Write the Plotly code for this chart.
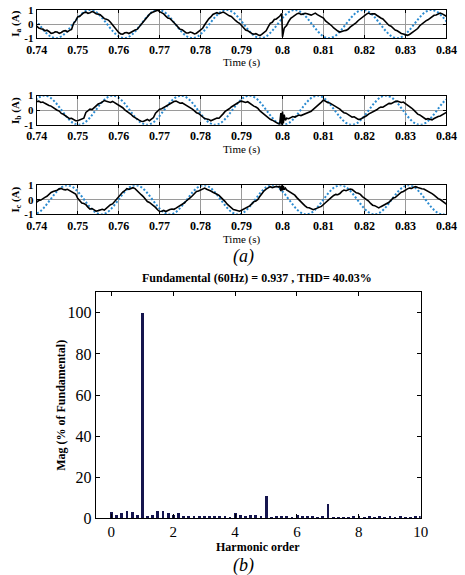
import plotly.graph_objects as go

# ---------------- data ----------------
TIME = [0.7400, 0.7405, 0.7410, 0.7415, 0.7420, 0.7425, 0.7430, 0.7435, 0.7440, 0.7445,
        0.7450, 0.7455, 0.7460, 0.7465, 0.7470, 0.7475, 0.7480, 0.7485, 0.7490, 0.7495,
        0.7500, 0.7505, 0.7510, 0.7515, 0.7520, 0.7525, 0.7530, 0.7535, 0.7540, 0.7545,
        0.7550, 0.7555, 0.7560, 0.7565, 0.7570, 0.7575, 0.7580, 0.7585, 0.7590, 0.7595,
        0.7600, 0.7605, 0.7610, 0.7615, 0.7620, 0.7625, 0.7630, 0.7635, 0.7640, 0.7645,
        0.7650, 0.7655, 0.7660, 0.7665, 0.7670, 0.7675, 0.7680, 0.7685, 0.7690, 0.7695,
        0.7700, 0.7705, 0.7710, 0.7715, 0.7720, 0.7725, 0.7730, 0.7735, 0.7740, 0.7745,
        0.7750, 0.7755, 0.7760, 0.7765, 0.7770, 0.7775, 0.7780, 0.7785, 0.7790, 0.7795,
        0.7800, 0.7805, 0.7810, 0.7815, 0.7820, 0.7825, 0.7830, 0.7835, 0.7840, 0.7845,
        0.7850, 0.7855, 0.7860, 0.7865, 0.7870, 0.7875, 0.7880, 0.7885, 0.7890, 0.7895,
        0.7900, 0.7905, 0.7910, 0.7915, 0.7920, 0.7925, 0.7930, 0.7935, 0.7940, 0.7945,
        0.7950, 0.7955, 0.7960, 0.7965, 0.7970, 0.7975, 0.7980, 0.7985, 0.7990,
        0.7993, 0.7996, 0.7998, 0.8000, 0.8002, 0.8004, 0.8007,
        0.8010, 0.8015, 0.8020, 0.8025, 0.8030, 0.8035, 0.8040, 0.8045, 0.8050, 0.8055,
        0.8060, 0.8065, 0.8070, 0.8075, 0.8080, 0.8085, 0.8090, 0.8095, 0.8100, 0.8105,
        0.8110, 0.8115, 0.8120, 0.8125, 0.8130, 0.8135, 0.8140, 0.8145, 0.8150, 0.8155,
        0.8160, 0.8165, 0.8170, 0.8175, 0.8180, 0.8185, 0.8190, 0.8195, 0.8200, 0.8205,
        0.8210, 0.8215, 0.8220, 0.8225, 0.8230, 0.8235, 0.8240, 0.8245, 0.8250, 0.8255,
        0.8260, 0.8265, 0.8270, 0.8275, 0.8280, 0.8285, 0.8290, 0.8295, 0.8300, 0.8305,
        0.8310, 0.8315, 0.8320, 0.8325, 0.8330, 0.8335, 0.8340, 0.8345, 0.8350, 0.8355,
        0.8360, 0.8365, 0.8370, 0.8375, 0.8380, 0.8385, 0.8390, 0.8395, 0.8400]

I_A = [-0.15, -0.28, -0.33, -0.36, -0.48, -0.44, -0.53, -0.66, -0.64, -0.55,
       -0.57, -0.66, -0.6, -0.5, -0.47, -0.55, -0.45, -0.38, 0.05, 0.22,
       0.5, 0.55, 0.68, 0.8, 0.84, 0.76, 0.8, 0.88, 0.83, 0.72,
       0.7, 0.66, 0.53, 0.38, 0.33, 0.28, 0.12, -0.05, -0.3, -0.42,
       -0.6, -0.7, -0.72, -0.62, -0.6, -0.67, -0.57, -0.48, -0.43, -0.38,
       -0.2, 0.0, 0.15, 0.28, 0.5, 0.68, 0.8, 0.86, 0.95, 0.98,
       0.88, 0.8, 0.72, 0.56, 0.43, 0.4, 0.27, 0.08, -0.05, -0.22,
       -0.37, -0.4, -0.53, -0.63, -0.64, -0.57, -0.62, -0.7, -0.65, -0.55,
       -0.43, -0.3, -0.05, 0.2, 0.37, 0.5, 0.68, 0.74, 0.8, 0.73,
       0.78, 0.85, 0.77, 0.66, 0.58, 0.53, 0.42, 0.25, 0.13, 0.05,
       -0.1, -0.3, -0.42, -0.47, -0.58, -0.67, -0.72, -0.68, -0.76, -0.82,
       -0.72, -0.62, -0.48, -0.2, 0.05, 0.12, 0.32, 0.36, 0.45,
       0.55, 0.65, 0.75, -0.9, -0.4, -0.3, -0.2,
       -0.1, 0.18, 0.4, 0.5, 0.63, 0.72, 0.77, 0.68, 0.7, 0.76,
       0.73, 0.65, 0.63, 0.7, 0.77, 0.66, 0.58, 0.52, 0.42, 0.22,
       0.1, 0.04, -0.12, -0.28, -0.4, -0.5, -0.57, -0.5, -0.48, -0.45,
       -0.37, -0.22, -0.13, -0.04, 0.1, 0.25, 0.37, 0.45, 0.58, 0.7,
       0.77, 0.7, 0.73, 0.72, 0.62, 0.5, 0.43, 0.36, 0.22, 0.02,
       -0.1, -0.16, -0.32, -0.43, -0.48, -0.6, -0.67, -0.7, -0.76, -0.8,
       -0.74, -0.62, -0.53, -0.45, -0.32, -0.12, 0.0, 0.14, 0.22, 0.3,
       0.43, 0.55, 0.62, 0.64, 0.73, 0.78, 0.72, 0.62, 0.55]

I_B = [0.6, 0.62, 0.53, 0.56, 0.47, 0.38, 0.33, 0.28, 0.17, 0.05,
       0.0, -0.06, -0.22, -0.28, -0.38, -0.5, -0.57, -0.55, -0.63, -0.72,
       -0.72, -0.66, -0.58, -0.55, -0.15, -0.02, 0.07, 0.04, 0.18, 0.3,
       0.42, 0.47, 0.58, 0.66, 0.62, 0.55, 0.53, 0.6, 0.52, 0.4,
       0.33, 0.28, 0.17, 0.02, -0.07, -0.15, -0.28, -0.42, -0.52, -0.58,
       -0.68, -0.75, -0.77, -0.7, -0.63, -0.72, -0.62, -0.5, -0.2, -0.05,
       0.07, 0.1, 0.18, 0.3, 0.37, 0.42, 0.53, 0.6, 0.62, 0.55,
       0.48, 0.5, 0.42, 0.3, 0.23, 0.18, 0.07, -0.05, -0.17, -0.22,
       -0.33, -0.47, -0.57, -0.6, -0.63, -0.72, -0.67, -0.6, -0.53, -0.55,
       -0.42, -0.25, -0.08, 0.0, 0.1, 0.22, 0.32, 0.36, 0.48, 0.58,
       0.62, 0.56, 0.53, 0.58, 0.47, 0.36, 0.28, 0.22, 0.12, -0.05,
       -0.17, -0.25, -0.38, -0.52, -0.62, -0.68, -0.78, -0.85, -0.92,
       -0.95, -0.2, -1.0, -0.1, -0.9, -0.3, -0.7,
       -0.55, -0.58, -0.48, -0.43, -0.47, -0.38, -0.33, -0.37, -0.32, -0.22,
       -0.18, -0.15, -0.07, 0.05, 0.17, 0.25, 0.38, 0.55, 0.7, 0.6,
       0.53, 0.5, 0.42, 0.3, 0.23, 0.16, 0.07, -0.06, -0.17, -0.2,
       -0.28, -0.4, -0.47, -0.45, -0.53, -0.63, -0.62, -0.55, -0.43, -0.38,
       -0.27, -0.2, -0.08, -0.06, 0.03, 0.14, 0.22, 0.2, 0.28, 0.4,
       0.47, 0.45, 0.53, 0.6, 0.62, 0.55, 0.53, 0.56, 0.47, 0.33,
       0.23, 0.15, 0.02, -0.15, -0.27, -0.32, -0.43, -0.55, -0.62, -0.58,
       -0.63, -0.66, -0.57, -0.48, -0.43, -0.4, -0.32, -0.2, -0.15]

I_C = [-0.15, -0.05, -0.02, 0.1, 0.17, 0.24, 0.38, 0.5, 0.57, 0.6,
       0.66, 0.75, 0.78, 0.7, 0.68, 0.72, 0.64, 0.58, 0.53, 0.4,
       0.1, -0.08, -0.22, -0.25, -0.33, -0.5, -0.64, -0.6, -0.7, -0.78,
       -0.74, -0.68, -0.65, -0.7, -0.57, -0.45, -0.33, -0.28, -0.12, 0.05,
       0.22, 0.35, 0.53, 0.62, 0.77, 0.72, 0.76, 0.83, 0.77, 0.62,
       0.43, 0.35, 0.22, 0.05, -0.12, -0.18, -0.28, -0.42, -0.52, -0.68,
       -0.8, -0.78, -0.73, -0.8, -0.72, -0.66, -0.63, -0.65, -0.57, -0.48,
       -0.43, -0.36, -0.22, -0.08, 0.07, 0.15, 0.28, 0.45, 0.57, 0.6,
       0.68, 0.76, 0.8, 0.72, 0.63, 0.6, 0.52, 0.42, 0.38, 0.3,
       0.17, 0.05, -0.12, -0.3, -0.43, -0.55, -0.67, -0.7, -0.73, -0.78,
       -0.72, -0.64, -0.58, -0.52, -0.42, -0.28, -0.13, -0.08, 0.03, 0.25,
       0.47, 0.62, 0.73, 0.8, 0.9, 0.84, 0.86, 0.92, 0.87,
       0.95, 0.6, 1.0, 0.65, 0.95, 0.7, 0.8,
       0.68, 0.58, 0.48, 0.42, 0.32, 0.15, -0.02, -0.15, -0.28, -0.42,
       -0.52, -0.55, -0.63, -0.68, -0.62, -0.55, -0.48, -0.45, -0.32, -0.18,
       -0.08, 0.05, 0.18, 0.3, 0.37, 0.35, 0.43, 0.58, 0.67, 0.62,
       0.68, 0.74, 0.7, 0.58, 0.48, 0.45, 0.37, 0.22, 0.13, 0.05,
       -0.08, -0.25, -0.37, -0.4, -0.48, -0.55, -0.47, -0.4, -0.28, -0.26,
       -0.17, -0.02, 0.12, 0.15, 0.28, 0.42, 0.52, 0.57, 0.68, 0.75,
       0.8, 0.78, 0.86, 0.9, 0.84, 0.78, 0.76, 0.74, 0.67, 0.55,
       0.48, 0.42, 0.32, 0.18, 0.08, 0.02, -0.1, -0.18, -0.3]

# reference 60 Hz waveforms (peaks, zero crossings and 30-degree points)
REF_T = [0.73911, 0.74050, 0.74189, 0.74328, 0.74467, 0.74606, 0.74744, 0.74883, 0.75022, 0.75161,
         0.75300, 0.75439, 0.75578, 0.75717, 0.75856, 0.75994, 0.76133, 0.76272, 0.76411, 0.76550,
         0.76689, 0.76828, 0.76967, 0.77106, 0.77244, 0.77383, 0.77522, 0.77661, 0.77800, 0.77939,
         0.78078, 0.78217, 0.78356, 0.78494, 0.78633, 0.78772, 0.78911, 0.79050, 0.79189, 0.79328,
         0.79467, 0.79606, 0.79744, 0.79883, 0.80022, 0.80161, 0.80300, 0.80439, 0.80578, 0.80717,
         0.80856, 0.80994, 0.81133, 0.81272, 0.81411, 0.81550, 0.81689, 0.81828, 0.81967, 0.82106,
         0.82244, 0.82383, 0.82522, 0.82661, 0.82800, 0.82939, 0.83078, 0.83217, 0.83356, 0.83494,
         0.83633, 0.83772, 0.83911, 0.84050]

REF_A = [0.5, 0, -0.5, -0.866, -1, -0.866, -0.5, 0, 0.5, 0.866, 1, 0.866,
         0.5, 0, -0.5, -0.866, -1, -0.866, -0.5, 0, 0.5, 0.866, 1, 0.866,
         0.5, 0, -0.5, -0.866, -1, -0.866, -0.5, 0, 0.5, 0.866, 1, 0.866,
         0.5, 0, -0.5, -0.866, -1, -0.866, -0.5, 0, 0.5, 0.866, 1, 0.866,
         0.5, 0, -0.5, -0.866, -1, -0.866, -0.5, 0, 0.5, 0.866, 1, 0.866,
         0.5, 0, -0.5, -0.866, -1, -0.866, -0.5, 0, 0.5, 0.866, 1, 0.866,
         0.5, 0]

REF_B = [0.5, 0.866, 1, 0.866, 0.5, 0, -0.5, -0.866, -1, -0.866, -0.5, 0,
         0.5, 0.866, 1, 0.866, 0.5, 0, -0.5, -0.866, -1, -0.866, -0.5, 0,
         0.5, 0.866, 1, 0.866, 0.5, 0, -0.5, -0.866, -1, -0.866, -0.5, 0,
         0.5, 0.866, 1, 0.866, 0.5, 0, -0.5, -0.866, -1, -0.866, -0.5, 0,
         0.5, 0.866, 1, 0.866, 0.5, 0, -0.5, -0.866, -1, -0.866, -0.5, 0,
         0.5, 0.866, 1, 0.866, 0.5, 0, -0.5, -0.866, -1, -0.866, -0.5, 0,
         0.5, 0.866]

REF_C = [-1, -0.866, -0.5, 0, 0.5, 0.866, 1, 0.866, 0.5, 0, -0.5, -0.866,
         -1, -0.866, -0.5, 0, 0.5, 0.866, 1, 0.866, 0.5, 0, -0.5, -0.866,
         -1, -0.866, -0.5, 0, 0.5, 0.866, 1, 0.866, 0.5, 0, -0.5, -0.866,
         -1, -0.866, -0.5, 0, 0.5, 0.866, 1, 0.866, 0.5, 0, -0.5, -0.866,
         -1, -0.866, -0.5, 0, 0.5, 0.866, 1, 0.866, 0.5, 0, -0.5, -0.866,
         -1, -0.866, -0.5, 0, 0.5, 0.866, 1, 0.866, 0.5, 0, -0.5, -0.866,
         -1, -0.866]

TIME_TICKS = [0.74, 0.75, 0.76, 0.77, 0.78, 0.79, 0.80, 0.81, 0.82, 0.83, 0.84]
TIME_TICK_LABELS = ["0.74", "0.75", "0.76", "0.77", "0.78", "0.79", "0.8", "0.81", "0.82", "0.83", "0.84"]

# FFT spectrum (10 Hz resolution -> 1/6 harmonic spacing)
H_ORDER = [0.000, 0.167, 0.333, 0.500, 0.667, 0.833,
           1.000, 1.167, 1.333, 1.500, 1.667, 1.833,
           2.000, 2.167, 2.333, 2.500, 2.667, 2.833,
           3.000, 3.167, 3.333, 3.500, 3.667, 3.833,
           4.000, 4.167, 4.333, 4.500, 4.667, 4.833,
           5.000, 5.167, 5.333, 5.500, 5.667, 5.833,
           6.000, 6.167, 6.333, 6.500, 6.667, 6.833,
           7.000, 7.167, 7.333, 7.500, 7.667, 7.833,
           8.000, 8.167, 8.333, 8.500, 8.667, 8.833,
           9.000, 9.167, 9.333, 9.500, 9.667, 9.833,
           10.000]
H_MAG = [2.8, 1.4, 2.2, 3.3, 3.1, 1.6,
         100.0, 0.6, 1.5, 3.2, 3.2, 2.4,
         1.3, 2.5, 1.0, 0.6, 0.8, 0.5,
         0.6, 0.5, 0.7, 1.0, 0.9, 0.4,
         2.5, 1.2, 1.0, 1.5, 1.3, 0.5,
         10.5, 0.4, 0.5, 0.8, 0.5, 0.4,
         1.2, 1.0, 0.7, 0.8, 0.4, 0.7,
         7.0, 0.4, 0.3, 0.4, 0.4, 0.5,
         1.0, 0.4, 0.5, 0.4, 0.5, 0.4,
         0.8, 0.4, 0.5, 0.4, 0.4, 0.5,
         0.7]

TITLE_B = "Fundamental (60Hz) = 0.937 , THD= 40.03%"

# ---------------- figure ----------------
W, H = 465, 575
SERIF = "Liberation Serif"
BLUE = "#2a8ad0"
NAVY = "#15154e"

def px_x(p):
    return p / W

def px_y(p):
    return 1 - p / H

fig = go.Figure()

phase_rows = [
    ("1", I_A, REF_A, 4, 33, "I<sub>a</sub> (A)"),
    ("2", I_B, REF_B, 92, 122, "I<sub>b</sub> (A)"),
    ("3", I_C, REF_C, 184, 214, "I<sub>c</sub> (A)"),
]

x0, x1 = 27, 457
for n, cur, ref, top, bot, lab in phase_rows:
    xa = "x" if n == "1" else "x" + n
    ya = "y" if n == "1" else "y" + n
    fig.add_trace(go.Scatter(x=REF_T, y=ref, mode="lines", xaxis=xa, yaxis=ya,
                             line=dict(color=BLUE, width=2, dash="2px,2px", shape="spline"),
                             showlegend=False, hoverinfo="skip"))
    fig.add_trace(go.Scatter(x=TIME, y=cur, mode="lines", xaxis=xa, yaxis=ya,
                             line=dict(color="black", width=1.6),
                             showlegend=False, hoverinfo="skip"))
    xkey = "xaxis" if n == "1" else "xaxis" + n
    ykey = "yaxis" if n == "1" else "yaxis" + n
    fig.layout[xkey] = dict(domain=[px_x(x0), px_x(x1)], anchor=ya, range=[0.74, 0.84],
                            tickvals=TIME_TICKS, ticktext=TIME_TICK_LABELS,
                            ticks="inside", ticklen=3, tickcolor="black",
                            showline=True, linecolor="black", linewidth=1, mirror="ticks",
                            showgrid=True, gridcolor="#9a9a9a", gridwidth=1,
                            zeroline=False,
                            tickfont=dict(family=SERIF, size=12, color="black", weight="bold"))
    fig.layout[ykey] = dict(domain=[px_y(bot), px_y(top)], anchor=xa, range=[-1, 1],
                            tickvals=[-1, 0, 1], ticktext=["-1", "0", "1"],
                            ticks="inside", ticklen=3, tickcolor="black",
                            showline=True, linecolor="black", linewidth=1, mirror="ticks",
                            showgrid=True, gridcolor="#9a9a9a", gridwidth=1,
                            zeroline=False,
                            tickfont=dict(family=SERIF, size=11, color="black", weight="bold"))
    fig.add_annotation(text="Time (s)", xref="paper", yref="paper",
                       x=px_x((x0 + x1) / 2), y=px_y(bot + 25.5), xanchor="center", yanchor="middle",
                       showarrow=False, font=dict(family=SERIF, size=11, color="black"))
    fig.add_annotation(text=lab, xref="paper", yref="paper", textangle=-90,
                       x=px_x(5), y=px_y((top + bot) / 2), xanchor="center", yanchor="middle",
                       showarrow=False, font=dict(family=SERIF, size=11, color="black", weight="bold"))

# spectrum
fig.add_trace(go.Bar(x=H_ORDER, y=H_MAG, xaxis="x4", yaxis="y4", width=0.09,
                     marker=dict(color=NAVY, line=dict(width=0)),
                     showlegend=False, hoverinfo="skip"))
fig.layout["xaxis4"] = dict(domain=[px_x(89), px_x(430)], anchor="y4", range=[-0.5, 10],
                            tickvals=[0, 2, 4, 6, 8, 10],
                            ticks="inside", ticklen=4, tickcolor="black",
                            showline=True, linecolor="black", linewidth=1, mirror="ticks",
                            showgrid=False, zeroline=False,
                            tickfont=dict(family=SERIF, size=15, color="black"))
fig.layout["yaxis4"] = dict(domain=[px_y(526), px_y(294)], anchor="x4", range=[0, 110],
                            tickvals=[0, 20, 40, 60, 80, 100],
                            ticks="inside", ticklen=4, tickcolor="black",
                            showline=True, linecolor="black", linewidth=1, mirror="ticks",
                            showgrid=False, zeroline=False,
                            tickfont=dict(family=SERIF, size=16, color="black"))

fig.add_annotation(text=TITLE_B, xref="paper", yref="paper", x=px_x(258), y=px_y(279),
                   xanchor="center", yanchor="middle", showarrow=False,
                   font=dict(family=SERIF, size=12, color="black", weight="bold"))
fig.add_annotation(text="Harmonic order", xref="paper", yref="paper", x=px_x(259), y=px_y(555),
                   xanchor="center", yanchor="middle", showarrow=False,
                   font=dict(family=SERIF, size=12, color="black", weight="bold"))
fig.add_annotation(text="Mag (% of Fundamental)", xref="paper", yref="paper", textangle=-90,
                   x=px_x(53), y=px_y(410), xanchor="center", yanchor="middle", showarrow=False,
                   font=dict(family=SERIF, size=12, color="black", weight="bold"))
fig.add_annotation(text="<i>(a)</i>", xref="paper", yref="paper", x=px_x(244), y=px_y(257),
                   xanchor="center", yanchor="middle", showarrow=False,
                   font=dict(family=SERIF, size=18, color="black"))
fig.add_annotation(text="<i>(b)</i>", xref="paper", yref="paper", x=px_x(244), y=px_y(574),
                   xanchor="center", yanchor="middle", showarrow=False,
                   font=dict(family=SERIF, size=18, color="black"))

fig.update_layout(width=W, height=H, margin=dict(l=0, r=0, t=0, b=0),
                  paper_bgcolor="white", plot_bgcolor="white", bargap=0)

fig.write_html("out.html")
